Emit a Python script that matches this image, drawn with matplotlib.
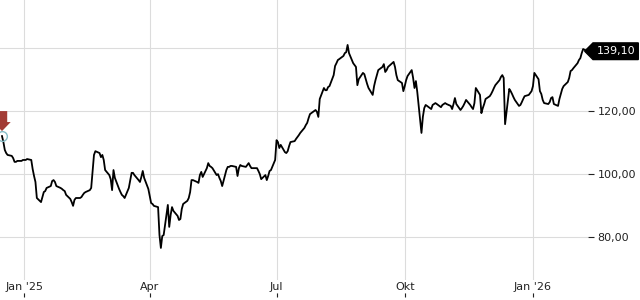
import matplotlib
matplotlib.use("Agg")
import matplotlib.pyplot as plt
import pandas as pd
from matplotlib.path import Path

# daily closes, one per business day from 16 Dec 2024
start_day = "2024-12-16"
prices = [
    112.1, 110.2, 107.7, 106.7, 106.1, 105.8, 105.1, 103.9, 103.9, 104.2,
    104.2, 104.5, 104.5, 104.5, 104.8, 104.5, 101.6, 99.4, 97.5, 92.4,
    91.1, 92.7, 94.3, 94.6, 95.6, 96.2, 97.8, 98.1, 97.5, 96.2,
    95.6, 95.3, 94.9, 94.6, 93.4, 92.1, 91.1, 89.9, 91.8, 92.4,
    92.4, 92.7, 93.4, 94.0, 94.3, 94.9, 95.6, 100.7, 106.1, 107.3,
    106.7, 105.4, 106.1, 104.5, 101.3, 99.7, 98.4, 94.9, 101.3, 98.8,
    95.3, 94.3, 93.4, 93.0, 92.4, 95.6, 98.1, 100.4, 100.4, 99.7,
    98.1, 97.5, 99.1, 101.0, 98.8, 95.3, 93.0, 90.8, 90.5, 89.9,
    89.5, 80.6, 76.5, 80.3, 80.6, 90.2, 83.2, 87.0, 89.5, 88.3,
    86.7, 85.4, 85.7, 88.9, 90.5, 91.5, 92.4, 94.3, 98.1, 98.1,
    97.5, 97.2, 99.7, 100.7, 99.1, 101.9, 103.5, 102.6, 102.3, 101.9,
    99.7, 100.0, 98.8, 97.8, 96.2, 101.3, 102.3, 102.3, 102.6, 102.6,
    102.3, 99.4, 101.9, 102.9, 102.6, 102.3, 102.9, 103.5, 102.6, 101.9,
    101.9, 101.9, 101.0, 100.0, 98.4, 99.7, 98.1, 99.4, 101.0, 101.3,
    104.5, 110.8, 110.2, 108.3, 109.3, 107.0, 106.7, 107.3, 108.9, 110.2,
    110.5, 111.2, 111.8, 112.4, 113.1, 114.7, 115.6, 116.3, 117.8, 119.1,
    120.1, 120.4, 119.8, 118.2, 123.9, 127.4, 126.7, 126.7, 127.7, 128.0,
    131.5, 134.4, 135.3, 136.3, 136.6, 137.6, 138.5, 138.8, 141.1, 138.5,
    135.3, 134.7, 134.1, 128.3, 130.2, 132.2, 131.8, 130.2, 128.7, 127.4,
    125.2, 128.0, 129.9, 131.5, 133.1, 134.1, 135.0, 132.5, 133.1, 134.1,
    135.3, 135.7, 134.1, 131.5, 129.9, 129.0, 126.4, 128.0, 129.9, 131.2,
    133.1, 130.6, 127.4, 129.6, 126.1, 113.1, 118.2, 121.0, 122.0, 121.7,
    120.7, 122.0, 122.3, 122.6, 122.3, 121.3, 122.0, 122.3, 122.6, 122.3,
    121.7, 120.7, 122.3, 124.2, 122.3, 120.4, 121.0, 121.7, 122.6, 123.6,
    122.0, 121.3, 120.7, 122.6, 127.4, 125.2, 119.4, 121.0, 122.3, 123.9,
    124.8, 125.5, 126.4, 127.4, 128.3, 129.9, 130.9, 131.5, 130.6, 115.9,
    127.1, 126.4, 125.5, 124.5, 123.6, 121.7, 122.0, 122.9, 123.9, 124.8,
    125.2, 125.8, 126.4, 128.0, 132.2, 130.2, 126.4, 125.5, 123.6, 122.6,
    122.3, 122.9, 124.2, 124.5, 122.3, 121.7, 123.9, 125.5, 127.1, 128.0,
    129.3, 130.6, 132.8, 133.1, 133.7, 135.3, 136.3, 136.9, 138.5, 139.8,
    139.1,
]
tick_dates = ["2025-01-01", "2025-04-01", "2025-07-01", "2025-10-01", "2026-01-01"]
tick_labels = ["Jan '25", "Apr", "Jul", "Okt", "Jan '26"]
y_ticks = [80, 100, 120, 140]
y_labels = ["80,00", "100,00", "120,00", ""]
last_label = "139,10"

days = pd.bdate_range(start_day, periods=len(prices))


def tag_box(x0, y0, width, height, mutation_size):
    # price tag: box with a pointed left end
    pad = 0.3 * mutation_size
    x0, y0 = x0 - pad, y0 - pad
    width, height = width + 2 * pad, height + 2 * pad
    tip = height / 2
    verts = [(x0 - tip, y0 + tip), (x0, y0), (x0 + width, y0),
             (x0 + width, y0 + height), (x0, y0 + height), (x0 - tip, y0 + tip)]
    return Path(verts, closed=True)


fig = plt.figure(figsize=(6.4, 3.0), dpi=100)
ax = fig.add_axes([0, 0.01, 588 / 640, 0.99])

ax.plot(days, prices, color="black", lw=1.3, zorder=3)

# signal marker on the first point
ax.plot(days[0], prices[0], "o", ms=7, mfc="none", mec="#86bcc6", mew=1, zorder=4)
ax.annotate("", xy=(days[0], prices[0]), xytext=(0, 18), textcoords="offset points",
            arrowprops=dict(arrowstyle="simple,head_length=0.65,head_width=1.25,tail_width=0.75",
                            fc="#a23b35", ec="none", shrinkA=0, shrinkB=3.6,
                            mutation_scale=10), zorder=5)

ax.set_xlim(pd.Timestamp("2024-12-14 13:30"), days[-1] + pd.Timedelta(hours=12))
ax.set_ylim(60.9, 155.4)

ax.set_xticks(pd.to_datetime(tick_dates), tick_labels)
ax.set_yticks(y_ticks, y_labels)
ax.yaxis.tick_right()
ax.tick_params(axis="x", direction="in", length=3, pad=-11, labelsize=8,
               colors="#222222")
ax.tick_params(axis="y", direction="out", length=4, pad=3, labelsize=8,
               colors="#222222")
for lbl in ax.get_xticklabels():
    lbl.set_bbox(dict(fc="white", ec="none", pad=1))

ax.grid(True, color="#dcdcdc", lw=0.8)
ax.set_axisbelow(True)
for s in ax.spines.values():
    s.set_visible(False)

ax.annotate(last_label, xy=(1, prices[-1]), xycoords=("axes fraction", "data"),
            xytext=(6, 0), textcoords="offset points", ha="left", va="center",
            color="white", fontsize=8, annotation_clip=False,
            bbox=dict(boxstyle=tag_box, fc="black", ec="black"), zorder=6)

fig.savefig("out.png", dpi=100)
